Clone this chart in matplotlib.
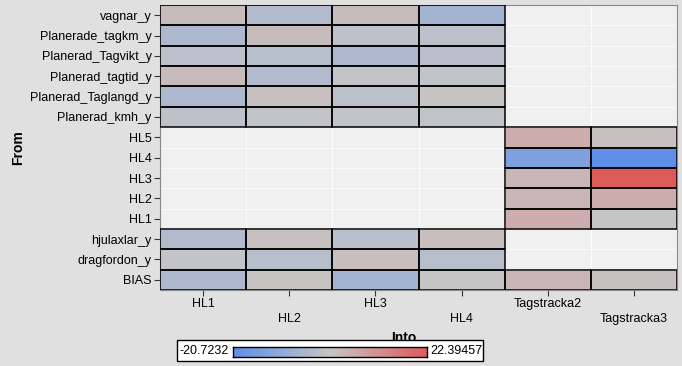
import matplotlib.pyplot as plt
import numpy as np
import matplotlib.patches as patches
from matplotlib.colors import LinearSegmentedColormap, Normalize

plt.rcParams['font.family'] = ['Liberation Sans', 'DejaVu Sans']

# Rader (From) och kolumner (Into)
rowLabels = ['vagnar_y', 'Planerade_tagkm_y', 'Planerad_Tagvikt_y', 'Planerad_tagtid_y',
             'Planerad_Taglangd_y', 'Planerad_kmh_y', 'HL5', 'HL4', 'HL3', 'HL2', 'HL1',
             'hjulaxlar_y', 'dragfordon_y', 'BIAS']
colLabels = ['HL1', 'HL2', 'HL3', 'HL4', 'Tagstracka2', 'Tagstracka3']

nan = np.nan
# Vikter uppskattade från färgerna
colHL1 = [3.0, -4.5, -1.5, 3.0, -4.5, -1.0, nan, nan, nan, nan, nan, -3.5, 0.0, -4.5]
colHL2 = [-3.5, 3.0, -2.5, -3.5, 2.0, 0.0, nan, nan, nan, nan, nan, 2.0, -2.5, 1.5]
colHL3 = [3.0, -1.0, -4.5, 0.0, -1.5, 0.0, nan, nan, nan, nan, nan, -2.0, 2.5, -6.5]
colHL4 = [-6.5, -1.5, -2.0, -0.5, 1.5, -0.5, nan, nan, nan, nan, nan, 2.5, -2.5, 0.5]
colT2 = [nan, nan, nan, nan, nan, nan, 6.0, -14.0, 4.0, 4.0, 6.0, nan, nan, 4.0]
colT3 = [nan, nan, nan, nan, nan, nan, 2.0, -20.7232, 22.39457, 6.0, 0.5, nan, nan, 2.0]

vMin, vMax = -20.7232, 22.39457

data = np.array([colHL1, colHL2, colHL3, colHL4, colT2, colT3]).T
nRows, nCols = data.shape

fig = plt.figure(figsize=(6.82, 3.66), dpi=100)
fig.patch.set_facecolor('#e0e0e0')
ax = fig.add_axes([160 / 682, 1 - 290 / 366, 517 / 682, 285 / 366])

cmap = LinearSegmentedColormap.from_list('sas', ['#5f8fe8', '#c6c6c6', '#dd5a5a'])
cmap.set_bad('#f0f0f0')
norm = Normalize(vMin, vMax)

masked = np.ma.masked_invalid(data)
ax.pcolormesh(np.arange(nCols + 1), np.arange(nRows + 1), masked, cmap=cmap, norm=norm,
              edgecolors='#fbfbfb', linewidth=0.6)

# Svarta kanter runt celler med värden
for i in range(nRows):
    for j in range(nCols):
        if not np.isnan(data[i, j]):
            ax.add_patch(patches.Rectangle((j, i), 1, 1, facecolor='none',
                                           edgecolor='black', linewidth=1.1, zorder=3))

ax.set_xlim(0, nCols)
ax.set_ylim(nRows, 0)
ax.set_yticks(np.arange(nRows) + 0.5)
ax.set_yticklabels(rowLabels, fontsize=9)
ax.set_xticks(np.arange(nCols) + 0.5)
ax.set_xticklabels(colLabels, fontsize=9)
ax.tick_params(axis='both', length=4, width=0.8, color='#333333', pad=2)
ax.tick_params(axis='x', pad=2)
for k, lab in enumerate(ax.get_xticklabels()):
    lab.set_y(0.002 if k % 2 == 0 else -0.05)
for s in ax.spines.values():
    s.set_color('#888888')
    s.set_linewidth(0.8)

fig.text(18 / 682, 1 - 148 / 366, 'From', rotation=90, fontsize=10, fontweight='bold',
         ha='center', va='center')
fig.text(404 / 682, 1 - 338 / 366, 'Into', fontsize=10, fontweight='bold',
         ha='center', va='center', zorder=2)

# Färgskala-legend längst ner
fig.patches.append(patches.Rectangle((177 / 682, 1 - 361 / 366), 306 / 682, 21 / 366,
                                     transform=fig.transFigure, facecolor='white',
                                     edgecolor='black', linewidth=1.0, zorder=5))
cax = fig.add_axes([233 / 682, 1 - 357 / 366, 194 / 682, 10 / 366], zorder=6)
gradient = np.linspace(vMin, vMax, 256).reshape(1, -1)
cax.imshow(gradient, aspect='auto', cmap=cmap, norm=norm)
cax.set_xticks([])
cax.set_yticks([])
for s in cax.spines.values():
    s.set_linewidth(1.0)
fig.text(229 / 682, 1 - 351.5 / 366, f'{vMin:g}', fontsize=9, ha='right', va='center', zorder=7)
fig.text(430 / 682, 1 - 351.5 / 366, f'{vMax:.5f}', fontsize=9, ha='left', va='center', zorder=7)

fig.savefig('out.png', dpi=100, facecolor=fig.get_facecolor())
